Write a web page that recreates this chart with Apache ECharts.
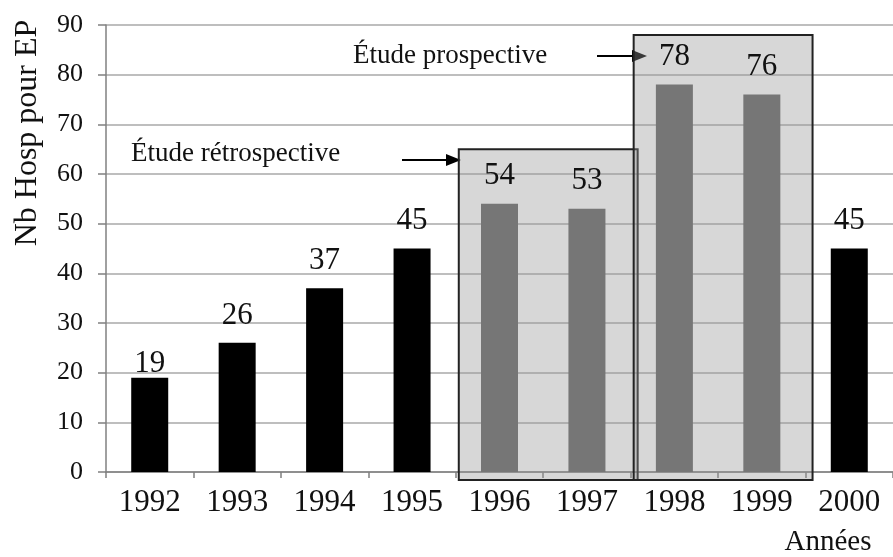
<!DOCTYPE html>
<html>
<head>
<meta charset="utf-8">
<script src="https://cdn.jsdelivr.net/npm/echarts@6/dist/echarts.min.js"></script>
<style>
html,body{margin:0;padding:0;background:#fff;}
#chart{width:893px;height:557px;}
</style>
</head>
<body>
<div id="chart"></div>
<script>
// ---- data ----
var years = ['1992','1993','1994','1995','1996','1997','1998','1999','2000'];
var hospitalisations = [19, 26, 37, 45, 54, 53, 78, 76, 45];
var yTicks = [0, 10, 20, 30, 40, 50, 60, 70, 80, 90];
// study periods: [first year, last year, box top value]
var studyNames = ['Étude rétrospective', 'Étude prospective'];
var studyStart = ['1996', '1998'];
var studyEnd = ['1997', '1999'];
var studyTop = [65, 88];

var SERIF = '"Liberation Serif","DejaVu Serif",serif';

function inStudy(y) {
  for (var i = 0; i < studyStart.length; i++) {
    if (+y >= +studyStart[i] && +y <= +studyEnd[i]) return true;
  }
  return false;
}

var chart = echarts.init(document.getElementById('chart'), null, {renderer: 'canvas'});

var barData = hospitalisations.map(function (v, i) {
  return {
    value: v,
    itemStyle: {color: inStudy(years[i]) ? '#767676' : '#000000'},
    label: {distance: v < 20 ? -2 : 12}
  };
});

var boxData = studyStart.map(function (s, i) {
  return [years.indexOf(s), years.indexOf(studyEnd[i]), studyTop[i]];
});

var option = {
  animation: false,
  backgroundColor: '#ffffff',
  grid: {left: 106, right: -5, top: 25, bottom: 85, containLabel: false},
  xAxis: {
    type: 'category',
    data: years,
    axisLine: {lineStyle: {color: '#808080', width: 1.5}},
    axisTick: {show: true, length: 6, lineStyle: {color: '#808080', width: 1.5}},
    axisLabel: {color: '#111', fontFamily: SERIF, fontSize: 31, margin: 15}
  },
  yAxis: {
    type: 'value',
    min: yTicks[0],
    max: yTicks[yTicks.length - 1],
    interval: yTicks[1] - yTicks[0],
    axisLine: {show: true, lineStyle: {color: '#808080', width: 1.5}},
    axisTick: {show: true, length: 8, lineStyle: {color: '#808080', width: 1.5}},
    axisLabel: {color: '#111', fontFamily: SERIF, fontSize: 26, margin: 23},
    splitLine: {show: true, lineStyle: {color: '#a8a8a8', width: 1.5}}
  },
  series: [
    {
      type: 'custom',
      z: 1,
      clip: false,
      silent: true,
      data: boxData,
      renderItem: function (params, api) {
        var a = api.coord([api.value(0), 0]);
        var b = api.coord([api.value(1), api.value(2)]);
        var band = api.size([1, 0])[0];
        var x0 = a[0] - band / 2 + 3;
        var x1 = b[0] + band / 2 + 7;
        var y0 = b[1];
        var y1 = a[1] + 8;
        return {
          type: 'rect',
          shape: {x: x0, y: y0, width: x1 - x0, height: y1 - y0},
          style: {fill: 'rgba(150,150,150,0.38)', stroke: '#222', lineWidth: 2}
        };
      }
    },
    {
      type: 'bar',
      z: 3,
      barWidth: 37,
      data: barData,
      label: {
        show: true,
        position: 'top',
        color: '#111',
        fontFamily: SERIF,
        fontSize: 31
      }
    }
  ],
  graphic: [
    {
      type: 'text', x: 28, y: 133, rotation: Math.PI / 2,
      style: {text: 'Nb Hosp pour EP', font: '32px ' + SERIF, fill: '#111', textAlign: 'center', textVerticalAlign: 'middle'}
    },
    {
      type: 'text', x: 828, y: 542,
      style: {text: 'Années', font: '29px ' + SERIF, fill: '#111', textAlign: 'center', textVerticalAlign: 'middle'}
    },
    {
      type: 'text', x: 131, y: 154,
      style: {text: studyNames[0], font: '27px ' + SERIF, fill: '#111', textAlign: 'left', textVerticalAlign: 'middle'}
    },
    {
      type: 'text', x: 353, y: 56,
      style: {text: studyNames[1], font: '27px ' + SERIF, fill: '#111', textAlign: 'left', textVerticalAlign: 'middle'}
    },
    {type: 'line', shape: {x1: 402, y1: 160, x2: 450, y2: 160}, style: {stroke: '#000', lineWidth: 2}},
    {type: 'polygon', shape: {points: [[446, 154], [461, 160], [446, 166]]}, style: {fill: '#000'}},
    {type: 'line', shape: {x1: 597, y1: 56, x2: 636, y2: 56}, style: {stroke: '#000', lineWidth: 2}},
    {type: 'polygon', shape: {points: [[632, 50], [647, 56], [632, 62]]}, style: {fill: '#000'}}
  ]
};

chart.setOption(option);
</script>
</body>
</html>
